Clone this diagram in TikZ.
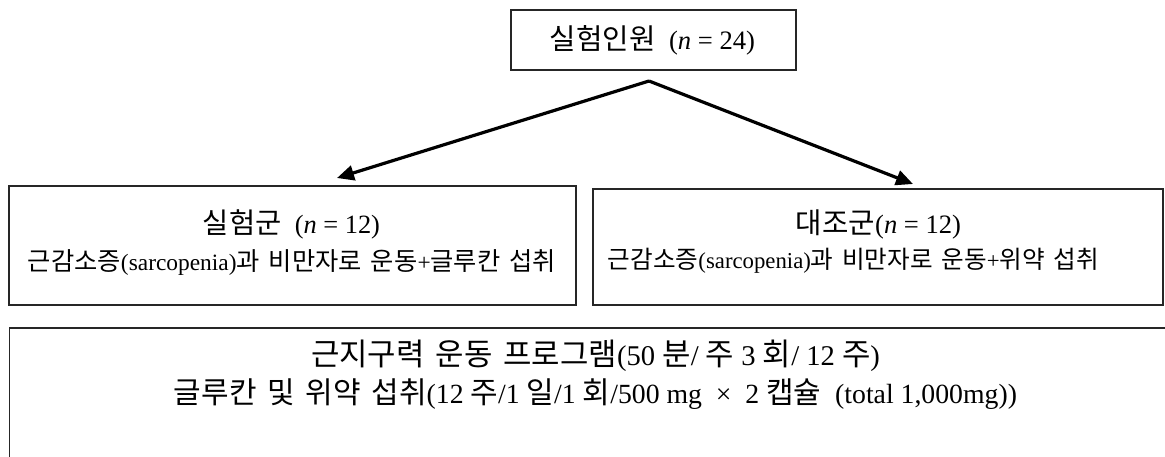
\documentclass[tikz,border=0pt]{standalone}
\usepackage{fontspec}
\setmainfont{Liberation Serif}
\newfontfamily\kr[Scale=1.08,WordSpace=1.6]{Noto Sans CJK KR}
\usetikzlibrary{arrows.meta}
\begin{document}
\begin{tikzpicture}[x=1pt,y=-1pt,
  box/.style={draw=black!85, line width=1.4pt, inner sep=0pt},
  lbl/.style={inner sep=0pt, anchor=center},
  arr/.style={line width=3.2pt, -{Triangle[length=17pt,width=15pt]}}]
\useasboundingbox (0,0) rectangle (1165,456);
\clip (0,0) rectangle (1165,456);
% boxes
\node[box, minimum width=285pt, minimum height=60pt] (top) at (653.5,40) {};
\node[box, minimum width=567pt, minimum height=119pt] (left) at (292.5,245.5) {};
\node[box, minimum width=570pt, minimum height=116pt] (right) at (878,247) {};
\node[box, minimum width=1171pt, minimum height=160pt] (bottom) at (595,408) {};
% texts
\node[lbl] (ttop) at (652.5,40) {\resizebox{205pt}{!}{{\kr 실험인원}~~(\textit{n} = 24)}};
\node[lbl] (tl1) at (291.5,224) {\resizebox{177pt}{!}{{\kr 실험군}~~(\textit{n} = 12)}};
\node[lbl] (tl2) at (292,263) {\resizebox{528pt}{!}{{\kr 근감소증}(sarcopenia){\kr 과 비만자로 운동}+{\kr 글루칸 섭취}}};
\node[lbl] (tr1) at (878.5,224) {\resizebox{165pt}{!}{{\kr 대조군}(\textit{n} = 12)}};
\node[lbl] (tr2) at (853.5,261) {\resizebox{491pt}{!}{{\kr 근감소증}(sarcopenia){\kr 과 비만자로 운동}+{\kr 위약 섭취}}};
\node[lbl] (tb1) at (595.5,356) {\resizebox{569pt}{!}{{\kr 근지구력 운동 프로그램}(50 {\kr 분}/ {\kr 주} 3 {\kr 회}/ 12 {\kr 주})}};
\node[lbl] (tb2) at (595.5,394) {\resizebox{843pt}{!}{{\kr 글루칸 및 위약 섭취}(12 {\kr 주}/1 {\kr 일}/1 {\kr 회}/500 mg ~×~ 2 {\kr 캡슐} ~(total 1,000mg))}};
% arrows
\coordinate (apex) at (649,81);
\coordinate (tipL) at (337,178);
\coordinate (tipR) at (913,184);
\draw[arr] (apex) -- (tipL);
\draw[arr] (apex) -- (tipR);
\end{tikzpicture}
\end{document}
